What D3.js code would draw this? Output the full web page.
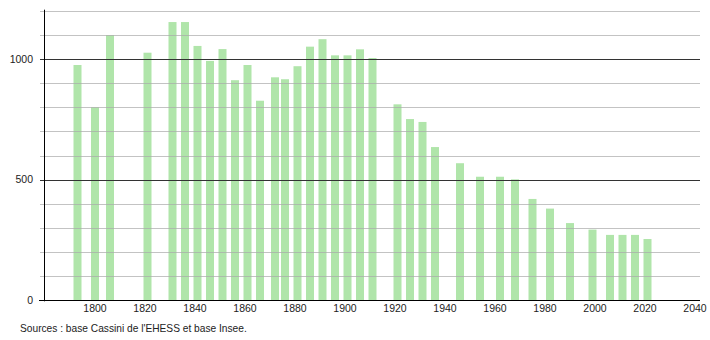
<!DOCTYPE html>
<html>
<head>
<meta charset="utf-8">
<script src="https://d3js.org/d3.v7.min.js"></script>
<style>
  body { margin: 0; background: #fff; }
  svg text { font-family: "Liberation Sans", Arial, sans-serif; font-size: 10.5px; fill: #222; }
</style>
</head>
<body>
<script>
// census years and population
var years = [1793, 1800, 1806, 1821, 1831, 1836, 1841, 1846, 1851, 1856, 1861, 1866, 1872, 1876,
  1881, 1886, 1891, 1896, 1901, 1906, 1911, 1921, 1926, 1931, 1936, 1946, 1954, 1962, 1968,
  1975, 1982, 1990, 1999, 2006, 2011, 2016, 2021];
var population = [975, 800, 1099, 1026, 1153, 1153, 1054, 992, 1041, 912, 975, 827, 924, 916,
  970, 1051, 1082, 1015, 1015, 1040, 1004, 812, 751, 739, 635, 568, 512, 512, 501,
  420, 380, 320, 293, 271, 271, 271, 254];
var xTicks = [1800, 1820, 1840, 1860, 1880, 1900, 1920, 1940, 1960, 1980, 2000, 2020, 2040];
var yTicks = [0, 500, 1000];
var gridValues = d3.range(100, 1201, 100);
var source = "Sources : base Cassini de l'EHESS et base Insee.";

var w = 710, h = 340;
var svg = d3.select("body").append("svg").attr("width", w).attr("height", h);

var x = d3.scaleLinear().domain([1779.6, 2042]).range([44, 700]);
var y = d3.scaleLinear().domain([0, 1200]).range([300.3, 10.7]);
var barW = 8;

// bars
svg.selectAll("rect.bar")
  .data(years)
  .enter()
  .append("rect")
  .attr("class", "bar")
  .attr("x", function(d) { return x(d) - barW / 2; })
  .attr("y", function(d, i) { return y(population[i]); })
  .attr("width", barW)
  .attr("height", function(d, i) { return y(0) - y(population[i]); })
  .attr("fill", "#b0e5aa");

// grid lines, dark every 500
svg.selectAll("line.grid")
  .data(gridValues)
  .enter()
  .append("line")
  .attr("x1", 40).attr("x2", 700)
  .attr("y1", function(d) { return Math.round(y(d)) + 0.5; })
  .attr("y2", function(d) { return Math.round(y(d)) + 0.5; })
  .attr("stroke", function(d) { return d % 500 == 0 ? "#333" : "#aaa"; })
  .attr("stroke-opacity", function(d) { return d % 500 == 0 ? 1 : 0.7; })
  .attr("stroke-width", 1);

// axes
svg.append("line")
  .attr("x1", 44.5).attr("x2", 44.5)
  .attr("y1", y(1200) - 1).attr("y2", y(0) + 1)
  .attr("stroke", "#000");
svg.append("line")
  .attr("x1", 39).attr("x2", 700)
  .attr("y1", Math.round(y(0)) + 0.5).attr("y2", Math.round(y(0)) + 0.5)
  .attr("stroke", "#000");

svg.selectAll("text.ylab")
  .data(yTicks)
  .enter()
  .append("text")
  .attr("x", 33)
  .attr("y", function(d) { return y(d); })
  .attr("dy", "0.35em")
  .attr("text-anchor", "end")
  .text(function(d) { return d; });

svg.selectAll("text.xlab")
  .data(xTicks)
  .enter()
  .append("text")
  .attr("x", function(d) { return x(d); })
  .attr("y", 312)
  .attr("text-anchor", "middle")
  .text(function(d) { return d; });

svg.append("text")
  .attr("x", 20)
  .attr("y", 332)
  .style("font-size", "10.2px")
  .text(source);
</script>
</body>
</html>
